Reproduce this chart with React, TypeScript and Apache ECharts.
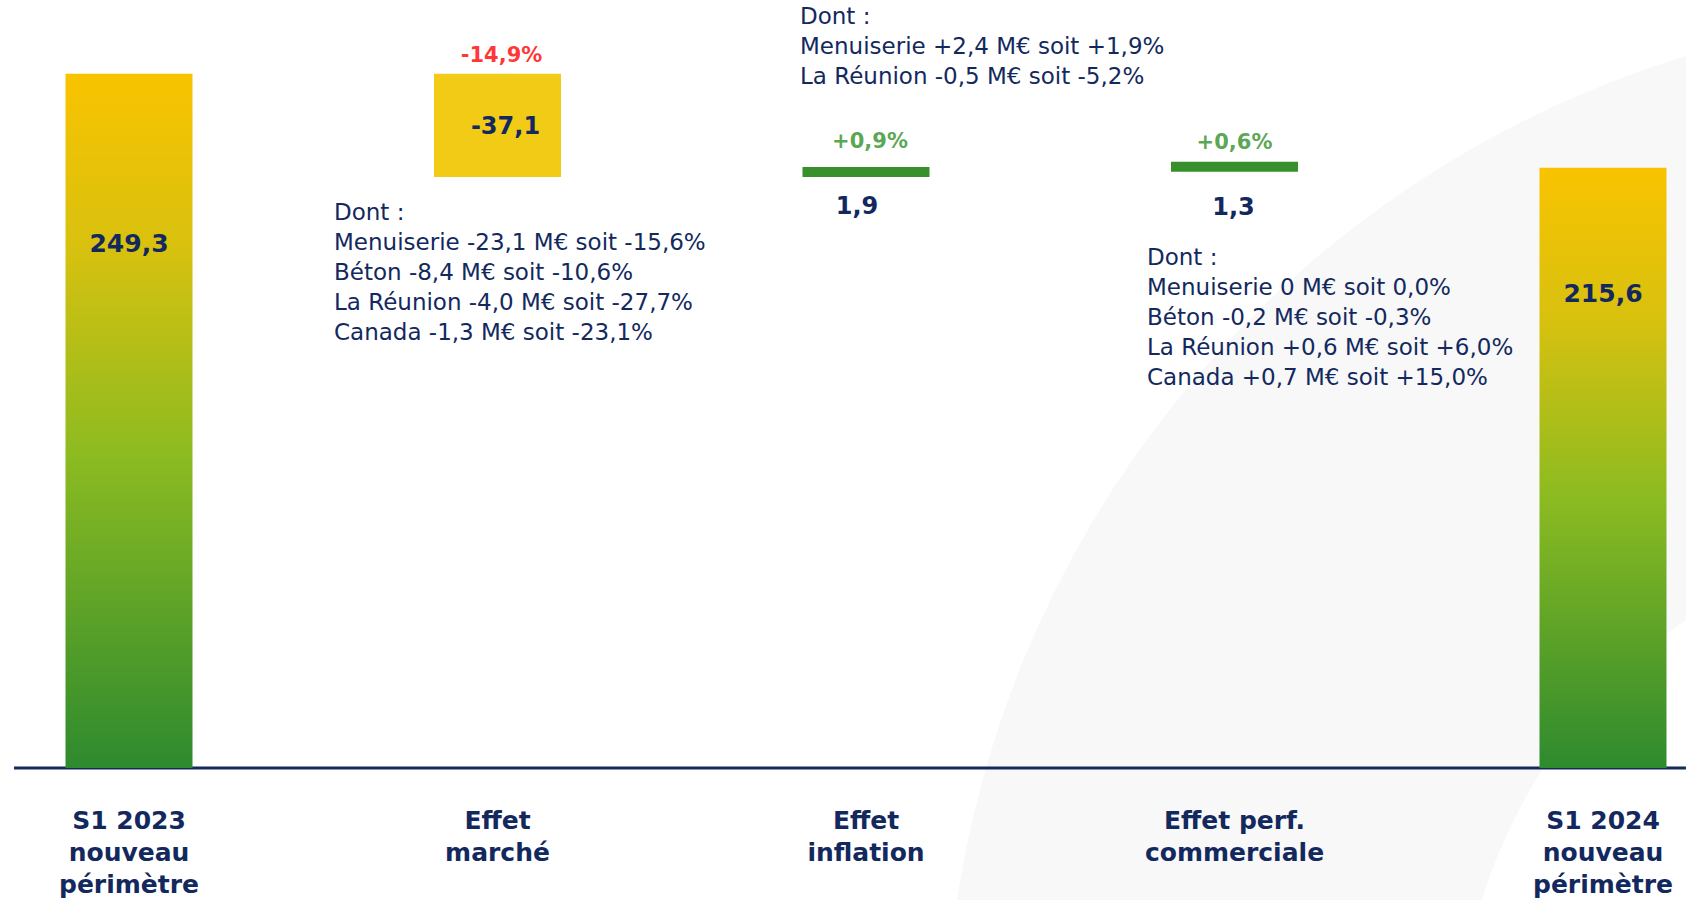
import React, { useEffect, useRef } from 'react';
import * as echarts from 'echarts';

// ---- Data ----
const categories = [
  'S1 2023\nnouveau\npérimètre',
  'Effet\nmarché',
  'Effet\ninflation',
  'Effet perf.\ncommerciale',
  'S1 2024\nnouveau\npérimètre',
];
const barValues = [249.3, 37.1, 1.9, 1.3, 215.6];
const baseValues = [0, 212.2, 212.2, 214.1, 0];
const barKinds = ['total', 'decrease', 'increase', 'increase', 'total'];
const valueLabels = ['249,3', '-37,1', '1,9', '1,3', '215,6'];
const pctLabels = ['', '-14,9%', '+0,9%', '+0,6%', ''];

const marketDetail = [
  'Dont :',
  'Menuiserie -23,1 M€ soit -15,6%',
  'Béton -8,4 M€ soit -10,6%',
  'La Réunion -4,0 M€ soit -27,7%',
  'Canada -1,3 M€ soit -23,1%',
];
const inflationDetail = [
  'Dont :',
  'Menuiserie +2,4 M€ soit +1,9%',
  'La Réunion -0,5 M€ soit -5,2%',
];
const commercialDetail = [
  'Dont :',
  'Menuiserie 0 M€ soit 0,0%',
  'Béton -0,2 M€ soit -0,3%',
  'La Réunion +0,6 M€ soit +6,0%',
  'Canada +0,7 M€ soit +15,0%',
];

// ---- Styles ----
const FONT = 'DejaVu Sans';
const NAVY = '#13295e';
const totalGradient = {
  type: 'linear', x: 0, y: 0, x2: 0, y2: 1,
  colorStops: [
    { offset: 0, color: '#f9c300' },
    { offset: 0.25, color: '#d8c10f' },
    { offset: 0.55, color: '#8cbb21' },
    { offset: 1, color: '#2e8a2e' },
  ],
};
const kindColor: Record<string, any> = {
  total: totalGradient,
  decrease: '#f2cb17',
  increase: '#38902d',
};
const pctColor: Record<string, string> = {
  decrease: '#ff0000',
  increase: '#2f8f27',
};
const valueLabelLayout: any[] = [
  { position: 'inside', offset: [0, -177] },
  { position: 'inside', offset: [8, 1] },
  { position: 'bottom', distance: 17, offset: [-9, 0] },
  { position: 'bottom', distance: 23, offset: [-1, 0] },
  { position: 'inside', offset: [0, -174] },
];
const pctLabelLayout: any[] = [
  {},
  { distance: 8, offset: [4, 0] },
  { distance: 20, offset: [4, 0] },
  { distance: 16, offset: [0, 0] },
  {},
];

export default function App() {
  const ref = useRef<HTMLDivElement>(null);

  useEffect(() => {
    if (!ref.current) return;
    const chart = echarts.init(ref.current, null, { renderer: 'svg' });

    const valueData = barValues.map((v, i) => ({
      value: v,
      itemStyle: { color: kindColor[barKinds[i]] },
      label: {
        show: true,
        formatter: valueLabels[i],
        fontFamily: FONT,
        fontWeight: 'bold',
        fontSize: i === 0 || i === 4 ? 25 : 24,
        color: NAVY,
        ...valueLabelLayout[i],
      },
    }));

    const pctData = barValues.map((v, i) =>
      pctLabels[i]
        ? {
            value: baseValues[i] + v,
            label: {
              show: true,
              position: 'top',
              formatter: pctLabels[i],
              fontFamily: FONT,
              fontWeight: 'bold',
              fontSize: 21,
              color: pctColor[barKinds[i]],
              ...pctLabelLayout[i],
            },
          }
        : '-'
    );

    chart.setOption({
      animation: false,
      backgroundColor: '#ffffff',
      grid: { left: 129, right: 83, top: 44, bottom: 128, containLabel: false },
      xAxis: {
        type: 'category',
        data: categories,
        boundaryGap: false,
        axisLine: { show: false },
        axisTick: { show: false },
        splitLine: { show: false },
        axisLabel: {
          interval: 0,
          fontFamily: FONT,
          fontWeight: 'bold',
          fontSize: 25,
          lineHeight: 32,
          margin: 36,
          color: NAVY,
          align: 'center',
        },
      },
      yAxis: {
        type: 'value',
        min: 0,
        max: 260,
        show: false,
        splitLine: { show: false },
      },
      series: [
        {
          name: 'base',
          type: 'bar',
          stack: 'wf',
          barWidth: 127,
          silent: true,
          itemStyle: { color: 'rgba(0,0,0,0)' },
          data: baseValues,
        },
        {
          name: 'value',
          type: 'bar',
          stack: 'wf',
          barWidth: 127,
          barMinHeight: 10,
          silent: true,
          data: valueData,
        },
        {
          name: 'pct',
          type: 'scatter',
          symbolSize: 0,
          silent: true,
          data: pctData,
        },
      ],
    });

    const y0 = chart.convertToPixel({ yAxisIndex: 0 }, 0) as number;

    const textBlock = (lines: string[], x: number, y: number) => ({
      type: 'text',
      silent: true,
      z: 5,
      style: {
        x,
        y,
        text: lines.join('\n'),
        fill: NAVY,
        fontFamily: FONT,
        fontSize: 23,
        lineHeight: 30,
        align: 'left',
        verticalAlign: 'top',
      },
    });

    chart.setOption({
      graphic: [
        {
          type: 'ring',
          silent: true,
          z: -10,
          shape: { cx: 1993, cy: 1058, r: 1048, r0: 535 },
          style: { fill: '#f8f8f8' },
        },
        {
          type: 'line',
          silent: true,
          z: -5,
          shape: { x1: 14, y1: y0, x2: 1686, y2: y0 },
          style: { stroke: '#14295e', lineWidth: 3 },
        },
        textBlock(marketDetail, 334, 197),
        textBlock(inflationDetail, 800, 1),
        textBlock(commercialDetail, 1147, 242),
      ],
    });

    return () => chart.dispose();
  }, []);

  return (
    <div
      ref={ref}
      style={{ position: 'fixed', left: 0, top: 0, width: 1686, height: 900, background: '#fff' }}
    />
  );
}
